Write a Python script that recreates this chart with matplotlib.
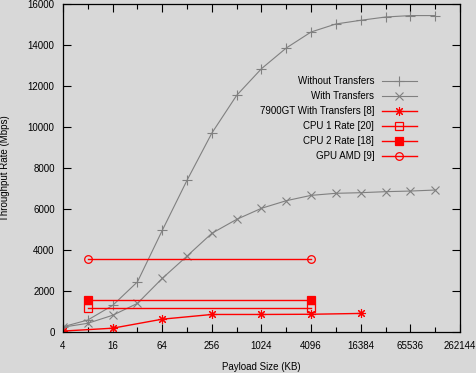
import matplotlib
matplotlib.use("Agg")
import matplotlib.pyplot as plt
from matplotlib.ticker import FixedLocator, NullFormatter

plt.rcParams['font.family'] = ['Liberation Sans', 'DejaVu Sans']

payload = [4, 8, 16, 32, 64, 128, 256, 512, 1024, 2048, 4096, 8192, 16384, 32768, 65536, 131072]
without_transfers = [270, 600, 1310, 2460, 4970, 7420, 9720, 11560, 12860, 13870, 14650, 15040, 15220, 15380, 15450, 15450]
with_transfers = [250, 440, 830, 1410, 2630, 3720, 4830, 5510, 6050, 6420, 6680, 6780, 6810, 6860, 6890, 6940]

gt_payload = [4, 16, 64, 256, 1024, 4096, 16384]
gt_with_transfers = [60, 200, 640, 870, 870, 880, 920]

ref_payload = [8, 4096]
cpu1_rate = [1200, 1200]
cpu2_rate = [1600, 1600]
gpu_amd = [3600, 3600]

xticks = [4, 16, 64, 256, 1024, 4096, 16384, 65536, 262144]
xminor = [8, 32, 128, 512, 2048, 8192, 32768, 131072]
yticks = [0, 2000, 4000, 6000, 8000, 10000, 12000, 14000, 16000]

bg = '#d8d8d8'
fig = plt.figure(figsize=(4.77, 3.73), dpi=100, facecolor=bg)
ax = fig.add_axes([63/477, (373-332.3)/373, (460-63)/477, (332.3-4.3)/373])
ax.set_facecolor(bg)

gray = '#808080'
red = '#ff0000'
lw = 0.8
ax.plot(payload, without_transfers, color=gray, lw=lw, marker='+', ms=6.5, mew=0.8, label='Without Transfers')
ax.plot(payload, with_transfers, color=gray, lw=lw, marker='x', ms=5.5, mew=0.8, label='With Transfers')
ax.plot(gt_payload, gt_with_transfers, color=red, lw=1.0, marker=(8, 2, 0), ms=6.5, mew=0.8, label='7900GT With Transfers [8]')
ax.plot(ref_payload, cpu1_rate, color=red, lw=1.0, marker='s', ms=5.5, mfc='none', mew=0.9, label='CPU 1 Rate [20]')
ax.plot(ref_payload, cpu2_rate, color=red, lw=1.0, marker='s', ms=5.5, mfc=red, mew=0.9, label='CPU 2 Rate [18]')
ax.plot(ref_payload, gpu_amd, color=red, lw=1.0, marker='o', ms=5.5, mfc='none', mew=0.9, label='GPU AMD [9]')

ax.set_xscale('log', base=2)
ax.set_xlim(4, 262144)
ax.set_ylim(0, 16000)
ax.xaxis.set_major_locator(FixedLocator(xticks))
ax.xaxis.set_minor_locator(FixedLocator(xminor))
ax.xaxis.set_minor_formatter(NullFormatter())
ax.set_xticklabels([str(v) for v in xticks])
ax.set_yticks(yticks)
ax.set_yticklabels([str(v) for v in yticks])

ax.tick_params(axis='both', which='major', direction='in', length=6, width=0.8, top=True, right=True, labelsize=7, pad=6)
ax.tick_params(axis='both', which='minor', direction='in', length=3.5, width=0.8, top=True, right=True)
for s in ax.spines.values():
    s.set_linewidth(0.9)
    s.set_color('black')

ax.set_xlabel('Payload Size (KB)', fontsize=7, labelpad=8)
ax.set_ylabel('Throughput Rate (Mbps)', fontsize=7, labelpad=13)

leg = ax.legend(loc='upper right', bbox_to_anchor=((417-63)/397, (332.3-76)/328), frameon=False,
                markerfirst=False, fontsize=7, handlelength=3.6, labelspacing=0.52,
                handletextpad=0.8, borderpad=0, borderaxespad=0)

fig.savefig('out.png', dpi=100, facecolor=bg)
